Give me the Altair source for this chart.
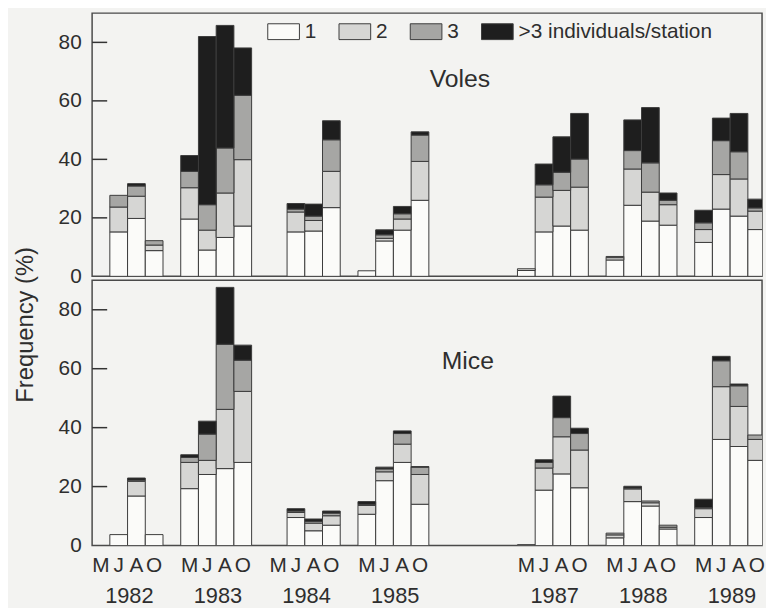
import altair as alt
import pandas as pd

categories = ["1", "2", "3", ">3 individuals/station"]
colors = ["#fbfbf9", "#d6d6d4", "#a6a6a4", "#1e1e1e"]

# sampling slots (x position index of each sampling occasion)
slots = [1, 2, 3, 5, 6, 7, 8, 11, 12, 13, 15, 16, 17, 18,
         24, 25, 26, 27, 29, 30, 31, 32, 34, 35, 36, 37]

voles_1 = [15.2, 19.8, 8.8, 19.6, 9.0, 13.3, 17.2, 15.2, 15.5, 23.5, 1.9, 12.1, 15.8, 26.0,
           2.0, 15.2, 17.2, 15.8, 5.6, 24.3, 18.9, 17.5, 11.6, 23.0, 20.6, 16.0]
voles_2 = [8.5, 7.6, 1.9, 10.7, 6.8, 15.2, 22.7, 6.8, 3.6, 12.4, 0, 0.9, 3.8, 13.3,
           0.6, 11.9, 12.2, 14.7, 0.8, 12.4, 9.9, 7.0, 4.4, 11.8, 12.7, 6.3]
voles_3 = [4.0, 3.5, 1.5, 5.6, 8.7, 15.4, 22.0, 1.0, 1.5, 10.8, 0, 1.2, 1.8, 9.0,
           0, 4.2, 6.2, 9.6, 0.4, 6.3, 10.0, 1.5, 2.3, 11.6, 9.3, 1.1]
voles_4 = [0, 0.8, 0, 5.4, 57.5, 41.9, 16.2, 1.9, 4.1, 6.5, 0, 1.7, 2.5, 1.1,
           0, 7.1, 12.1, 15.6, 0, 10.5, 18.9, 2.5, 4.3, 7.7, 13.1, 3.0]

mice_1 = [3.7, 16.8, 3.7, 19.3, 24.1, 26.1, 28.2, 9.5, 5.0, 6.9, 10.6, 22.0, 28.2, 14.0,
          0.3, 18.8, 24.3, 19.6, 2.6, 14.9, 13.4, 5.6, 9.5, 36.0, 33.6, 28.9]
mice_2 = [0, 5.0, 0, 8.9, 4.8, 20.1, 24.1, 1.7, 2.6, 3.2, 3.0, 3.0, 6.2, 10.1,
          0, 7.5, 12.6, 12.8, 1.0, 4.3, 1.1, 0.6, 3.0, 17.9, 13.6, 7.1]
mice_3 = [0, 0.4, 0, 1.7, 8.9, 22.1, 10.6, 0.5, 0.6, 0.9, 0.4, 1.0, 3.6, 2.5,
          0, 1.9, 6.5, 5.6, 0.6, 0.3, 0.6, 0.7, 0.4, 8.8, 7.0, 1.5]
mice_4 = [0, 0.7, 0, 0.9, 4.4, 19.3, 5.1, 0.8, 0.8, 0.7, 0.9, 0.6, 0.9, 0.2,
          0, 0.9, 7.3, 1.8, 0, 0.6, 0, 0, 2.8, 1.5, 0.6, 0]

years = ["1982", "1983", "1984", "1985", "1987", "1988", "1989"]
year_first_slot = [0, 5, 10, 15, 24, 29, 34]
months = ["M", "J", "A", "O"]
tick_values = [20, 40, 60, 80]

FONT = "Liberation Sans"
TXT = "#2e2e2e"


def long_df(series):
    rows = []
    for order, (cat, vals) in enumerate(zip(categories, series)):
        for s, v in zip(slots, vals):
            rows.append({"slot": s, "category": cat, "order": order, "value": v})
    return pd.DataFrame(rows)


xscale = alt.Scale(domain=[0, 37.8], nice=False, zero=False)
yscale = alt.Scale(domain=[0, 90], nice=False)
fscale = alt.Scale(domain=categories, range=colors)


def panel(series, name, name_x, name_y, height, legend, ytitle):
    df = long_df(series)
    bars = alt.Chart(df).transform_filter("datum.value > 0").transform_stack(
        stack="value", groupby=["slot"], as_=["y0", "y1"],
        sort=[alt.SortField("order", order="ascending")]
    ).transform_calculate(slot_end="datum.slot + 1").mark_bar(
        stroke="#3c3c3c", strokeWidth=1, clip=True
    ).encode(
        x=alt.X("slot:Q", scale=xscale, axis=None),
        x2="slot_end:Q",
        y=alt.Y("y0:Q", scale=yscale, axis=alt.Axis(
            values=[0] + tick_values, ticks=False, domain=False, grid=False,
            labelFontSize=21, labelPadding=11, labelColor=TXT, labelFont=FONT,
            title=ytitle if ytitle else None,
            **({"titleX": -67, "titleY": 44.5, "titleAngle": 270, "titleAlign": "center",
                "titleBaseline": "middle", "titleFontSize": 24, "titleFontWeight": "normal",
                "titleColor": TXT, "titleFont": FONT} if ytitle else {})
        )),
        y2="y1:Q",
        fill=alt.Fill("category:N", scale=fscale, sort=categories, legend=legend),
    )
    tdf = pd.DataFrame({"t": tick_values, "a": [0.0] * 4, "b": [0.85] * 4})
    ticks = alt.Chart(tdf).mark_rule(color="#333", strokeWidth=1.5).encode(
        y=alt.Y("t:Q", scale=yscale),
        x=alt.X("a:Q", scale=xscale),
        x2="b:Q",
    )
    label = alt.Chart(pd.DataFrame({"name": [name], "x": [name_x], "y": [name_y]})).mark_text(
        fontSize=25, font=FONT, color=TXT, baseline="middle"
    ).encode(x=alt.X("x:Q", scale=xscale), y=alt.Y("y:Q", scale=yscale), text="name:N")
    return alt.layer(bars, label, ticks).properties(width=677, height=height)


legend = alt.Legend(
    orient="none", legendX=177, legendY=2, direction="horizontal", title=None,
    symbolType="M-1,-0.5H1V0.5H-1Z", symbolSize=1024, symbolStrokeColor="#3c3c3c",
    symbolStrokeWidth=1, symbolOpacity=1, labelFontSize=21, labelFont=FONT, labelColor=TXT,
    labelOffset=5, columnPadding=20, padding=0, labelLimit=0,
)

top = panel([voles_1, voles_2, voles_3, voles_4], "Voles", 20.75, 67.5, 266, legend, None)
bottom = panel([mice_1, mice_2, mice_3, mice_4], "Mice", 21.2, 62.7, 268, None, "Frequency (%)")

mdf = pd.DataFrame([{"x": f + i + 0.5, "m": m} for f in year_first_slot for i, m in enumerate(months)])
ydf = pd.DataFrame({"x": [f + 2.1 for f in year_first_slot], "year": years})
month_text = alt.Chart(mdf).mark_text(fontSize=21, font=FONT, color=TXT, baseline="middle").encode(
    x=alt.X("x:Q", scale=xscale), y=alt.value(289), text="m:N")
year_text = alt.Chart(ydf).mark_text(fontSize=22, font=FONT, color=TXT, baseline="middle").encode(
    x=alt.X("x:Q", scale=xscale), y=alt.value(319), text="year:N")
bottom = alt.layer(bottom, month_text, year_text)

chart = alt.vconcat(top, bottom, spacing=4, bounds="flush").resolve_scale(fill="independent").properties(
    padding={"left": 5, "top": 1, "right": 0, "bottom": 0},
    background="#f3f3f1",
).configure_view(stroke="#4a4a4a", strokeWidth=1.5)

chart.save("out.html", embed_options={"renderer": "svg", "actions": False})
